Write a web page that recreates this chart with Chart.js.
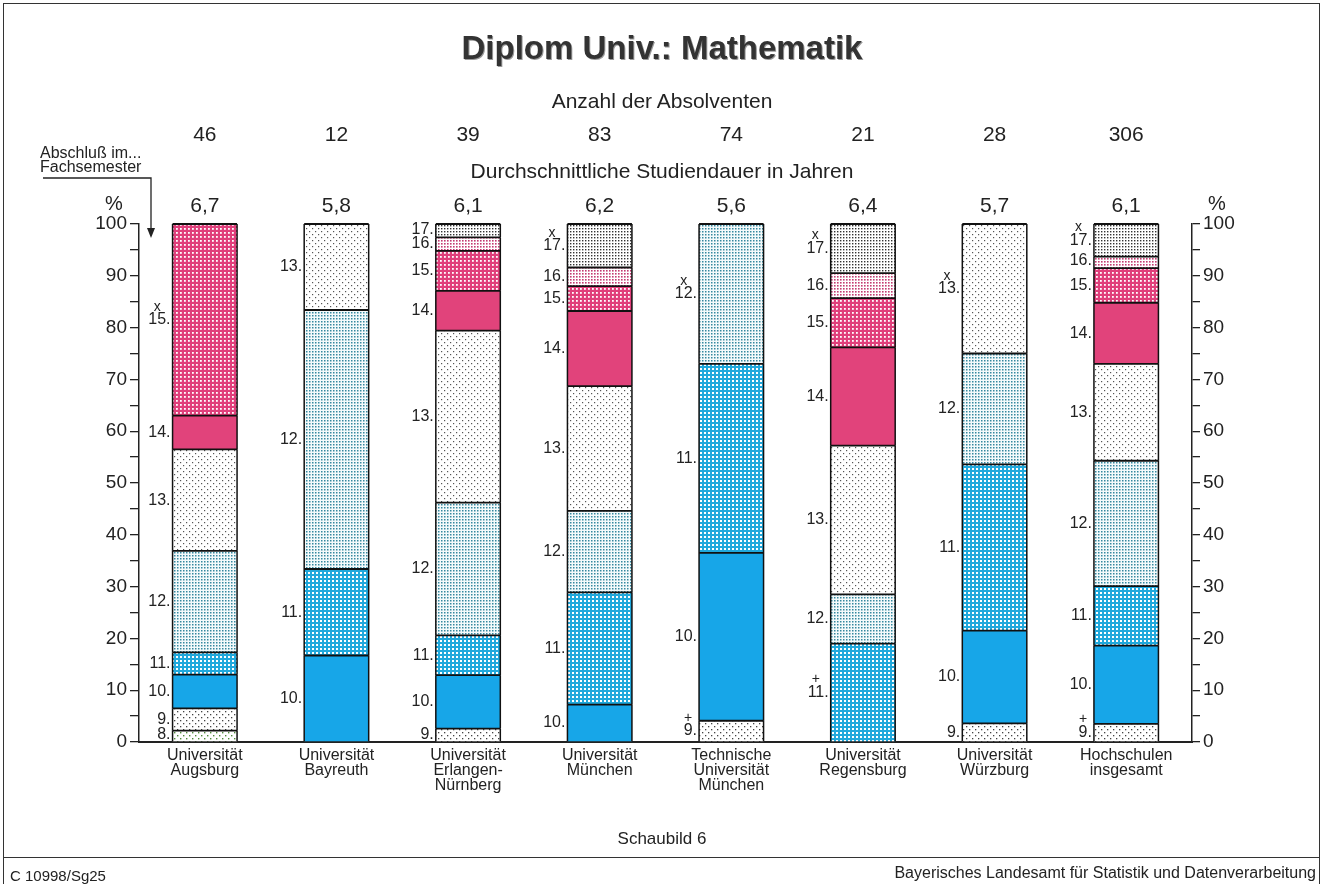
<!DOCTYPE html>
<html><head><meta charset="utf-8">
<script src="https://cdn.jsdelivr.net/npm/chart.js@4"></script>
<style>
html,body{margin:0;padding:0;background:#fff;}
#wrap{position:relative;width:1324px;height:884px;overflow:hidden;font-family:"Liberation Sans",Arial,sans-serif;color:#222;}
#c{position:absolute;left:0;top:0;}
.t{position:absolute;white-space:nowrap;line-height:1;}
.frame{position:absolute;left:3px;top:3px;width:1315px;height:900px;border:1.5px solid #333;border-bottom:none;}
.hr{position:absolute;left:3px;top:857px;width:1317px;height:0;border-top:1.5px solid #333;}
</style></head><body>
<div id="wrap">
<div class="frame"></div>
<div class="hr"></div>
<canvas id="c" width="1324" height="884"></canvas>
<div class="t" style="left:0;width:1324px;text-align:center;top:31px;font-size:33px;font-weight:bold;color:#333;text-shadow:1px 1px 0 #999;">Diplom Univ.: Mathematik</div>
<div class="t" style="left:0;width:1324px;text-align:center;top:90px;font-size:21px;">Anzahl der Absolventen</div>
<div class="t" style="left:0;width:1324px;text-align:center;top:160px;font-size:21px;">Durchschnittliche Studiendauer in Jahren</div>
<div class="t" style="left:40px;top:145px;font-size:16px;">Abschluß im...</div>
<div class="t" style="left:40px;top:159px;font-size:16px;">Fachsemester</div>
<div class="t" style="left:105px;top:193px;font-size:20px;">%</div>
<div class="t" style="left:1208px;top:193px;font-size:20px;">%</div>
<div class="t" style="left:0;width:1324px;text-align:center;top:830px;font-size:17px;">Schaubild 6</div>
<div class="t" style="left:10px;top:868px;font-size:15px;">C 10998/Sg25</div>
<div class="t" style="right:8px;top:865px;font-size:16px;">Bayerisches Landesamt für Statistik und Datenverarbeitung</div>
</div>
<script>
// ---- data ----
const categories = [
  ['Universität','Augsburg'],
  ['Universität','Bayreuth'],
  ['Universität','Erlangen-','Nürnberg'],
  ['Universität','München'],
  ['Technische','Universität','München'],
  ['Universität','Regensburg'],
  ['Universität','Würzburg'],
  ['Hochschulen','insgesamt']
];
const graduates = [46, 12, 39, 83, 74, 21, 28, 306];
const avgYears = [6.7, 5.8, 6.1, 6.2, 5.6, 6.4, 5.7, 6.1];
const semesters = ['8', '9', '10', '11', '12', '13', '14', '15', '16', '17'];
const sem8  = [2.2, null, null, null, null, null, null, null];
const sem9  = [4.3, null, 2.6, null, 4.1, null, 3.6, 3.5];
const sem10 = [6.5, 16.7, 10.3, 7.2, 32.4, null, 17.9, 15.1];
const sem11 = [4.3, 16.7, 7.7, 21.7, 36.5, 19.0, 32.1, 11.5];
const sem12 = [19.6, 50.0, 25.6, 15.7, 27.0, 9.5, 21.4, 24.2];
const sem13 = [19.6, 16.6, 33.2, 24.1, null, 28.7, 25.0, 18.7];
const sem14 = [6.5, null, 7.7, 14.5, null, 19.0, null, 11.8];
const sem15 = [37.0, null, 7.7, 4.8, null, 9.5, null, 6.7];
const sem16 = [null, null, 2.6, 3.6, null, 4.8, null, 2.2];
const sem17 = [null, null, 2.6, 8.4, null, 9.5, null, 6.3];
const topMarks = ['x', '', '', 'x', 'x', 'x', 'x', 'x'];
const bottomMarks = ['', '', '', '', '+', '+', '', '+'];
const yTicks = [0, 10, 20, 30, 40, 50, 60, 70, 80, 90, 100];

// ---- styles ----
const FONT = '"Liberation Sans", Arial, sans-serif';
function pattern(bg, dot, step, size, stagger) {
  const c = document.createElement('canvas');
  c.width = step * (stagger ? 2 : 1); c.height = step * (stagger ? 2 : 1);
  const g = c.getContext('2d');
  g.fillStyle = bg; g.fillRect(0, 0, c.width, c.height);
  g.fillStyle = dot;
  g.fillRect(0, 0, size, size);
  if (stagger) g.fillRect(step, step, size, size);
  return g.createPattern(c, 'repeat');
}
const fills = {
  '8':  pattern('#ffffff', '#4f8a3a', 3, 1.4, true),
  '9':  pattern('#ffffff', '#444444', 3, 1.3, true),
  '10': '#17a6e8',
  '11': pattern('#20a8dc', '#ffffff', 4, 2, false),
  '12': pattern('#f4fafb', '#35889f', 3, 1.5, false),
  '13': pattern('#ffffff', '#555555', 3, 1.2, true),
  '14': '#e1437b',
  '15': pattern('#e03f7b', '#ffffff', 4, 1.8, false),
  '16': pattern('#ffffff', '#c43c72', 3, 1.6, false),
  '17': pattern('#ffffff', '#333333', 3, 1.4, false)
};
const seriesData = [sem8, sem9, sem10, sem11, sem12, sem13, sem14, sem15, sem16, sem17];

const datasets = semesters.map((s, k) => ({
  label: s + '. Fachsemester',
  data: seriesData[k],
  backgroundColor: fills[s],
  borderWidth: 0,
  barPercentage: 0.49,
  categoryPercentage: 1.0
}));

const extras = {
  id: 'extras',
  afterDatasetsDraw(chart) {
    const ctx = chart.ctx;
    const xs = chart.scales.x;
    ctx.save();
    // segment outlines and separators
    ctx.strokeStyle = '#111';
    chart.data.datasets.forEach((ds, d) => {
      chart.getDatasetMeta(d).data.forEach((el, i) => {
        if (ds.data[i] == null) return;
        const l = el.x - el.width / 2, r = el.x + el.width / 2;
        ctx.lineWidth = 1.8;
        ctx.beginPath();
        ctx.moveTo(l, el.y); ctx.lineTo(r, el.y);
        ctx.stroke();
        ctx.lineWidth = 1.5;
        ctx.beginPath();
        ctx.moveTo(l, el.y); ctx.lineTo(l, el.base);
        ctx.moveTo(r, el.y); ctx.lineTo(r, el.base);
        ctx.stroke();
      });
    });
    ctx.fillStyle = '#222';
    // counts and durations rows
    ctx.font = '21px ' + FONT;
    ctx.textAlign = 'center';
    ctx.textBaseline = 'alphabetic';
    for (let i = 0; i < categories.length; i++) {
      const x = xs.getPixelForValue(i);
      ctx.fillText(String(graduates[i]), x, 141);
      ctx.fillText(avgYears[i].toFixed(1).replace('.', ','), x, 212);
    }
    // segment labels
    for (let i = 0; i < categories.length; i++) {
      const items = [];
      chart.data.datasets.forEach((ds, d) => {
        const v = ds.data[i];
        if (v == null) return;
        const el = chart.getDatasetMeta(d).data[i];
        items.push({num: semesters[d], y: (el.y + el.base) / 2, left: el.x - el.width / 2, base: el.base});
      });
      let prev = Infinity;
      items.forEach(it => {
        const y = Math.min(it.y, it.base - 7, prev - 14);
        it.ly = y; prev = y;
      });
      ctx.font = '16px ' + FONT;
      ctx.textAlign = 'right';
      ctx.textBaseline = 'middle';
      items.forEach(it => ctx.fillText(it.num + '.', it.left - 2, it.ly));
      const dotW = ctx.measureText('.').width;
      const markAt = (it, m) => {
        const nw = ctx.measureText(it.num).width;
        const cx = it.left - 2 - dotW - nw / 2;
        ctx.save();
        ctx.font = '14px ' + FONT;
        ctx.textAlign = 'center';
        ctx.fillText(m, cx, it.ly - 13);
        ctx.restore();
      };
      if (topMarks[i]) markAt(items[items.length - 1], topMarks[i]);
      if (bottomMarks[i]) markAt(items[0], bottomMarks[i]);
    }
    // arrow from "Fachsemester"
    ctx.strokeStyle = '#222';
    ctx.lineWidth = 1.3;
    ctx.beginPath();
    ctx.moveTo(43, 178); ctx.lineTo(151, 178); ctx.lineTo(151, 229);
    ctx.stroke();
    ctx.beginPath();
    ctx.moveTo(147, 228); ctx.lineTo(155, 228); ctx.lineTo(151, 238); ctx.closePath();
    ctx.fill();
    ctx.restore();
  }
};

const yAxisCommon = {
  stacked: true,
  min: 0, max: 100,
  afterBuildTicks: (s) => {
    const t = [];
    for (let v = 0; v <= 100; v += 5) t.push({value: v});
    s.ticks = t;
  },
  ticks: {
    callback: (v) => yTicks.includes(v) ? String(v) : '',
    font: {size: 19, family: FONT},
    color: '#222',
    autoSkip: false
  },
  grid: {drawOnChartArea: false, drawTicks: true, color: '#222', lineWidth: 1.3},
  border: {display: true, color: '#222', width: 1.5}
};

new Chart(document.getElementById('c'), {
  type: 'bar',
  data: {labels: categories, datasets},
  options: {
    responsive: false,
    animation: false,
    devicePixelRatio: 1,
    layout: {padding: {top: 224, left: 0, right: 0, bottom: 0}},
    plugins: {legend: {display: false}, tooltip: {enabled: false}, title: {display: false}},
    scales: {
      x: {
        stacked: true,
        offset: true,
        grid: {display: false, drawTicks: false},
        border: {display: true, color: '#222', width: 2},
        ticks: {font: {size: 16, family: FONT, lineHeight: 0.95}, color: '#222', padding: 6, maxRotation: 0, autoSkip: false},
        afterFit: (s) => { s.height = 142; }
      },
      y: Object.assign({}, yAxisCommon, {
        position: 'left',
        ticks: Object.assign({}, yAxisCommon.ticks, {padding: 3}),
        grid: Object.assign({}, yAxisCommon.grid, {tickLength: 9}),
        afterFit: (s) => { s.width = 139; }
      }),
      y2: Object.assign({}, yAxisCommon, {
        position: 'right',
        stacked: false,
        ticks: Object.assign({}, yAxisCommon.ticks, {padding: 3}),
        grid: Object.assign({}, yAxisCommon.grid, {tickLength: 8}),
        afterFit: (s) => { s.width = 132; }
      })
    }
  },
  plugins: [extras]
});
</script>
</body></html>
